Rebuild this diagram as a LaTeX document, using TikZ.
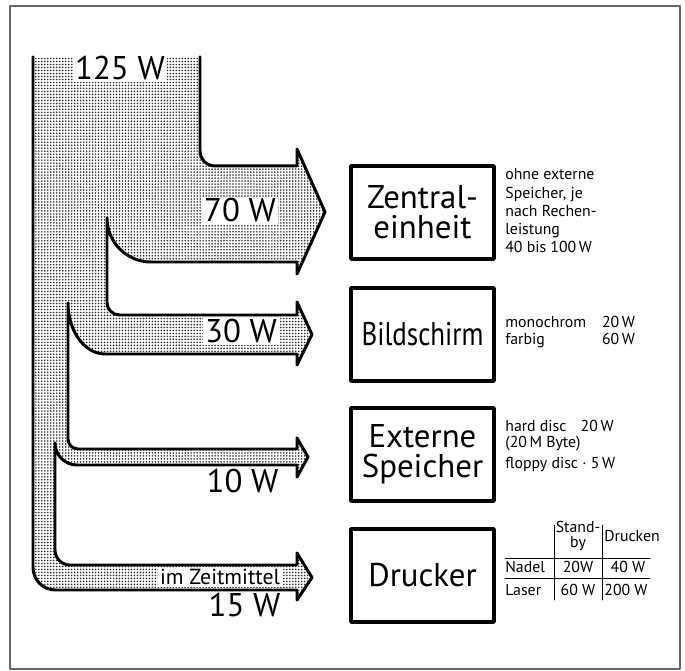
\documentclass[tikz,border=0pt]{standalone}
\usepackage{fontspec}
\setmainfont{PT Sans}
\usetikzlibrary{arrows.meta}
\usetikzlibrary{patterns.meta}
\newcommand\bigtype{\fontsize{18.7}{17}\selectfont}
\newcommand\midtype{\fontsize{12.4}{14}\selectfont}
\newcommand\smalltype{\fontsize{9}{10.4}\selectfont}

\begin{document}
\begin{tikzpicture}[line cap=round,line join=round,>=Stealth,x=1cm,y=1cm,
  flow/.style={line width=1.7pt,pattern={Dots[distance=1.7pt,radius=0.5pt]},pattern color=black!85},
  unit/.style={draw,line width=2pt,minimum width=2.86cm,minimum height=1.86cm,align=center,font=\bigtype},
  watt/.style={font=\bigtype,inner sep=1pt,anchor=base},
  note/.style={font=\smalltype,align=left,inner sep=0pt,anchor=base west}]
\clip(0,0) rectangle (13.70,13.42);
\draw [black!60,line width=0.6pt] (0.20,0.04) rectangle (13.60,13.30);
% Energiefluss
\draw [flow] (4.00,12.28) -- (4.00,10.40) arc[start angle=180,end angle=270,radius=0.30] -- (5.94,10.10) -- (5.94,10.44) -- (6.50,9.18) -- (5.94,7.94) -- (5.94,8.18) -- (3.02,8.18) arc[start angle=270,end angle=180,radius=0.88] -- (2.14,7.37) arc[start angle=180,end angle=270,radius=0.25] -- (5.94,7.12) -- (5.94,7.38) -- (6.24,6.73) -- (5.94,6.12) -- (5.94,6.34) -- (2.10,6.34) arc[start angle=270,end angle=180,x radius=0.74,y radius=1.02] -- (1.36,4.64) arc[start angle=180,end angle=270,radius=0.20] -- (5.94,4.44) -- (5.94,4.66) -- (6.16,4.28) -- (5.94,3.88) -- (5.94,4.12) -- (1.54,4.12) arc[start angle=270,end angle=180,radius=0.44] -- (1.10,2.42) arc[start angle=180,end angle=270,radius=0.30] -- (5.94,2.12) -- (5.94,2.36) -- (6.24,1.87) -- (5.94,1.42) -- (5.94,1.62) -- (1.11,1.62) arc[start angle=270,end angle=180,radius=0.45] -- (0.66,12.28);
\draw (2.40,11.82) node[watt,fill=white] (p125) {125 W};
\draw (4.80,8.98) node[watt,fill=white] (p70) {70 W};
\draw (4.82,6.56) node[watt,fill=white] (p30) {30 W};
\draw (4.85,3.56) node[watt] (p10) {10 W};
\draw (4.40,1.72) node[font=\midtype,inner sep=1pt,anchor=base,fill=white] (avg) {im Zeitmittel};
\draw (4.89,1.08) node[watt] (p15) {15 W};
% Geraete
\node[unit] (cpu) at (8.45,9.17) {Zentral-\\einheit};
\node[unit] (screen) at (8.45,6.73) {\scalebox{0.82}[1]{Bildschirm}};
\node[unit] (store) at (8.45,4.33) {Externe\\Speicher};
\node[unit] (printer) at (8.45,1.91) {Drucker};
\node[note] (cpunote) at (10.10,8.36) {ohne externe\\Speicher, je\\nach Rechen-\\leistung\\40 bis 100\,W};
\node[note] (screennote) at (10.10,6.52) {\begin{tabular}[b]{@{}l@{\hspace{9pt}}r@{}}monochrom & 20\,W\\[-0.7pt] farbig & 60\,W\end{tabular}};
\node[note] (storenote) at (10.10,4.04) {hard disc\hspace{0.9em}20\,W\\[-1.3pt](20\,M Byte)\\[2.1pt] floppy disc · 5\,W};
% Tabelle Drucker
\draw [line width=0.5pt] (10.10,2.26) -- (13.00,2.26);
\draw [line width=0.5pt] (10.10,1.86) -- (13.00,1.86);
\draw [line width=0.5pt] (11.08,2.92) -- (11.08,1.42);
\draw [line width=0.5pt] (12.04,2.92) -- (12.04,1.42);
\begin{scope}[every node/.style={font=\smalltype,inner sep=0pt,anchor=base}]
\draw (11.56,2.76) node (standa) {Stand-};
\draw (11.56,2.46) node (standb) {by};
\draw (12.08,2.58) node[anchor=base west] (print) {Drucken};
\draw (10.10,1.96) node[anchor=base west] (nadel) {Nadel};
\draw (11.56,1.96) node (nadela) {20W};
\draw (12.56,1.96) node (nadelb) {40 W};
\draw (10.10,1.50) node[anchor=base west] (laser) {Laser};
\draw (11.56,1.50) node (lasera) {60 W};
\draw (12.52,1.50) node (laserb) {200 W};
\end{scope}
\end{tikzpicture}
\end{document}
